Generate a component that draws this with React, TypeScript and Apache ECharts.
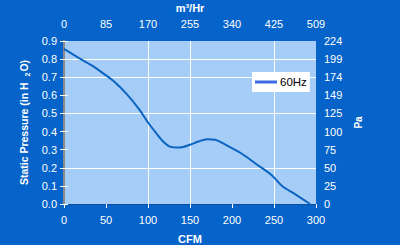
import React, { useEffect, useRef } from "react";
import * as echarts from "echarts";

const cfm = [0, 20, 35, 50, 60, 75, 90, 100, 110, 118, 126, 138, 150, 160, 170, 180, 192, 210, 230, 247, 260, 275, 293];
const pressure = [0.857, 0.8, 0.76, 0.71, 0.675, 0.605, 0.52, 0.45, 0.39, 0.345, 0.317, 0.312, 0.327, 0.345, 0.358, 0.355, 0.328, 0.283, 0.217, 0.16, 0.098, 0.055, 0.0];
const topLabels = ["0", "85", "170", "255", "340", "425", "509"];
const paLabels = ["0", "25", "50", "75", "100", "125", "149", "174", "199", "224"];
const vGrid = [100, 150, 250];
const hGrid = [0.2, 0.5, 0.7, 0.8];
const seriesName = "60Hz";

const FONT = "Liberation Sans, Arial, sans-serif";

export default function App() {
  const ref = useRef<HTMLDivElement>(null);
  useEffect(() => {
    if (!ref.current) return;
    const chart = echarts.init(ref.current, null, { renderer: "svg" });
    const label = { color: "#ffffff", fontSize: 11, fontFamily: FONT };
    const tick = { show: true, length: 4, inside: false, lineStyle: { color: "#ffffff", width: 1 } };
    chart.setOption({
      animation: false,
      backgroundColor: "#0563c9",
      textStyle: { fontFamily: FONT },
      grid: {
        left: 64,
        right: 84,
        top: 41,
        bottom: 41,
        outerBoundsMode: "none",
        containLabel: false,
        show: true,
        backgroundColor: "#a5cdf7",
        borderWidth: 0,
      },
      legend: {
        left: 252,
        top: 72,
        backgroundColor: "#ffffff",
        borderWidth: 0,
        padding: [4, 3, 4, 3],
        icon: "rect",
        itemWidth: 22,
        itemHeight: 3,
        itemGap: 0,
        textStyle: { color: "#000000", fontSize: 11.5, fontFamily: FONT, padding: [0, 0, 0, -2] },
        data: [{ name: seriesName, itemStyle: { color: "#3a6be0" } }],
      },
      graphic: [
        { type: "line", shape: { x1: 252.5, y1: 72, x2: 252.5, y2: 92 }, style: { stroke: "#000", lineWidth: 1 } },
        { type: "line", shape: { x1: 308.5, y1: 72, x2: 308.5, y2: 92 }, style: { stroke: "#000", lineWidth: 1 } },
      ],
      xAxis: [
        {
          type: "value",
          position: "bottom",
          min: 0,
          max: 300,
          interval: 50,
          axisLine: { show: true, lineStyle: { color: "#0a4fa0", width: 1 } },
          axisTick: tick,
          axisLabel: { ...label, margin: 10 },
          splitLine: { show: false },
          name: "CFM",
          nameLocation: "middle",
          nameGap: 29,
          nameTextStyle: { color: "#ffffff", fontSize: 11, fontWeight: "bold", fontFamily: FONT },
        },
        {
          type: "value",
          position: "top",
          min: 0,
          max: 300,
          interval: 50,
          axisLine: { show: false },
          axisTick: { show: false },
          axisLabel: { ...label, margin: 12, formatter: (_v: number, i: number) => topLabels[i] ?? "" },
          splitLine: { show: false },
          name: "m³/Hr",
          nameLocation: "middle",
          nameGap: 28,
          nameTextStyle: { color: "#ffffff", fontSize: 11, fontWeight: "bold", fontFamily: FONT },
        },
      ],
      yAxis: [
        {
          type: "value",
          position: "left",
          min: 0,
          max: 0.9,
          interval: 0.1,
          axisLine: { show: true, lineStyle: { color: "#8a8a8a", width: 2 } },
          axisTick: tick,
          axisLabel: { ...label, margin: 7, formatter: (v: number) => v.toFixed(1) },
          splitLine: { show: false },
          name: "Static Pressure (in H {sub|2}O)",
          nameLocation: "middle",
          nameRotate: 90,
          nameGap: 26,
          nameTextStyle: {
            color: "#ffffff",
            fontSize: 10.5,
            fontWeight: "bold",
            fontFamily: FONT,
            rich: { sub: { fontSize: 7, fontWeight: "bold", color: "#ffffff", verticalAlign: "bottom", padding: [6, 1, 0, 3] } },
          },
        },
        {
          type: "value",
          position: "right",
          min: 0,
          max: 9,
          interval: 1,
          axisLine: { show: true, lineStyle: { color: "#8a8a8a", width: 2 } },
          axisTick: tick,
          axisLabel: { ...label, margin: 8, formatter: (_v: number, i: number) => paLabels[i] ?? "" },
          splitLine: { show: false },
          name: "Pa",
          nameLocation: "middle",
          nameRotate: 90,
          nameGap: 29,
          nameTextStyle: { color: "#ffffff", fontSize: 10, fontWeight: "bold", fontFamily: FONT },
        },
      ],
      series: [
        {
          name: seriesName,
          type: "line",
          xAxisIndex: 0,
          yAxisIndex: 0,
          smooth: 0.3,
          symbol: "none",
          data: cfm.map((c, i) => [c, pressure[i]]),
          lineStyle: { color: "#0a64c0", width: 2 },
          itemStyle: { color: "#3a6be0" },
          z: 5,
          markLine: {
            silent: true,
            symbol: "none",
            label: { show: false },
            lineStyle: { color: "#ffffff", width: 1, type: "solid" },
            data: [...vGrid.map((v) => ({ xAxis: v })), ...hGrid.map((v) => ({ yAxis: v }))],
            z: 1,
          },
        },
      ],
    });
    return () => chart.dispose();
  }, []);
  return <div ref={ref} style={{ position: "fixed", left: 0, top: 0, width: 400, height: 245 }} />;
}
